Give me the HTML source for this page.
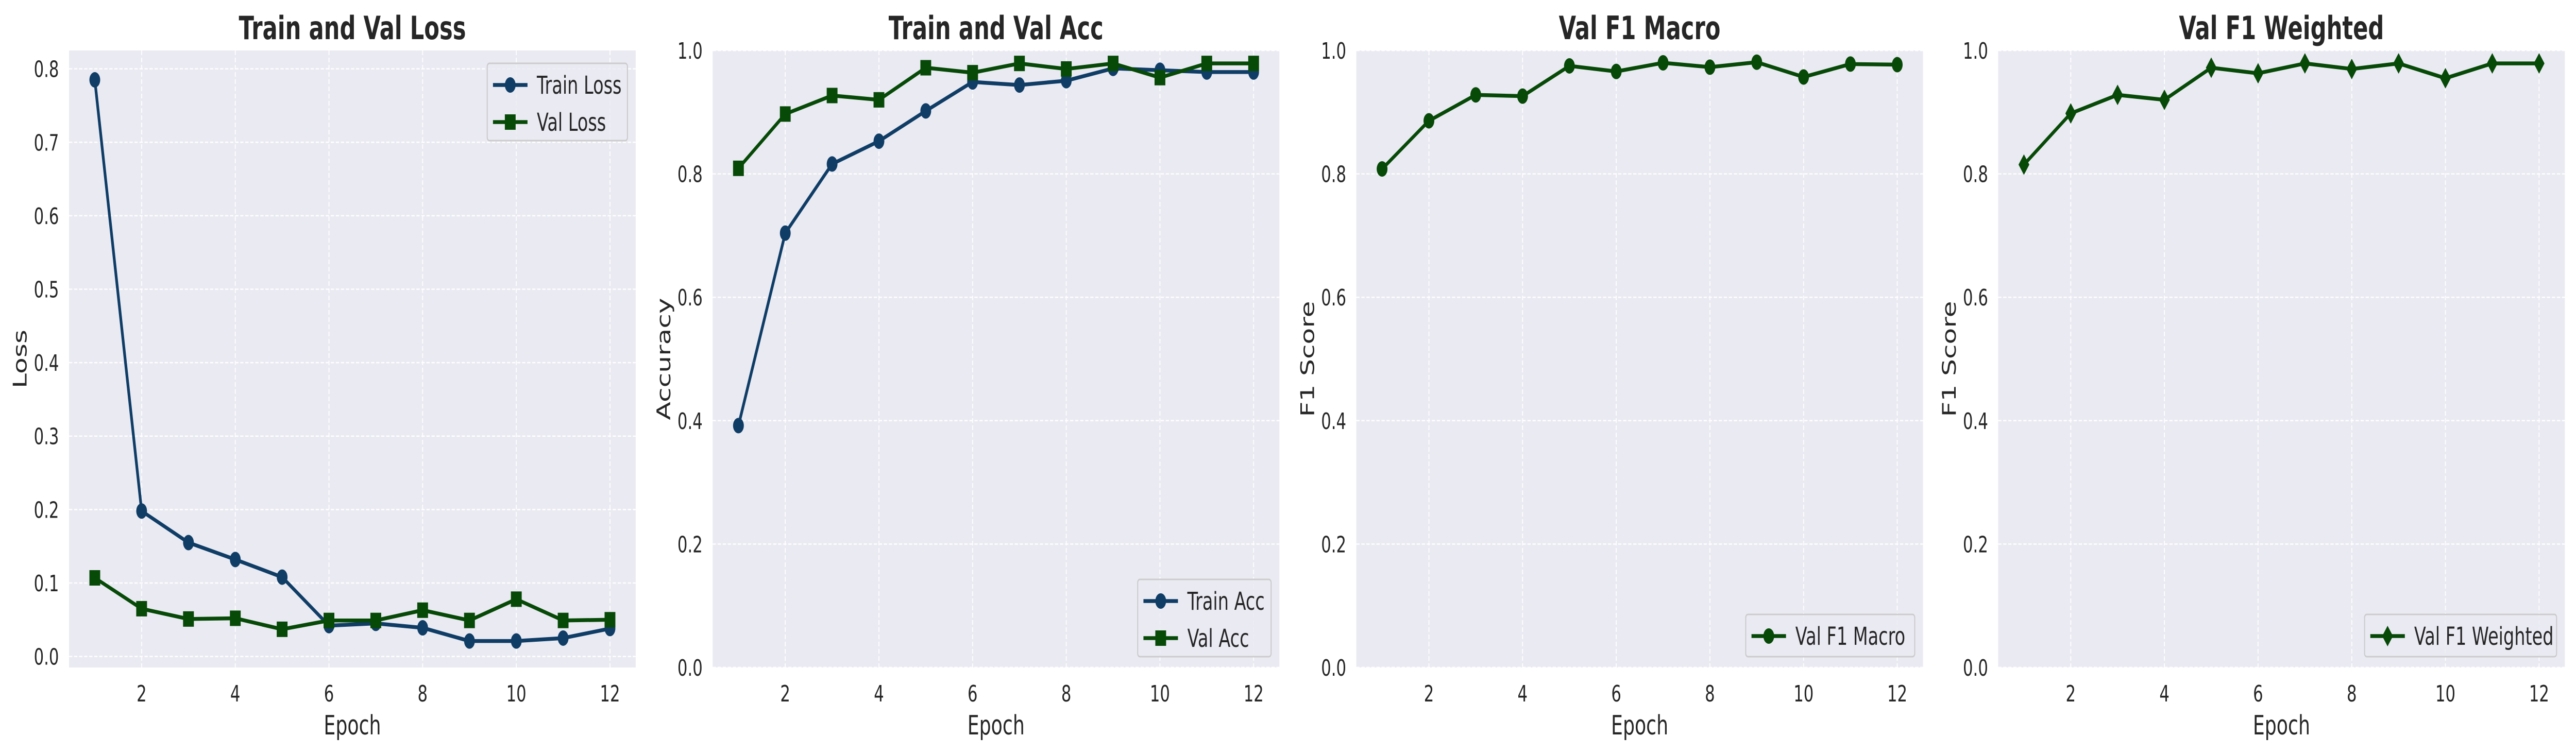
<!DOCTYPE html>
<html><head><meta charset="utf-8"><style>
html,body{margin:0;padding:0;background:#fff;width:100vw;height:100vh;overflow:hidden}
svg{display:block;width:100vw;height:100vh;font-family:"DejaVu Sans","Liberation Sans",sans-serif}
</style></head><body>
<svg id="chart" viewBox="0 0 7164 1464" preserveAspectRatio="none" xmlns="http://www.w3.org/2000/svg"></svg>
<script>
const epochs=[1,2,3,4,5,6,7,8,9,10,11,12];
const trainLoss=[0.785,0.198,0.155,0.132,0.108,0.042,0.045,0.039,0.021,0.021,0.025,0.038];
const valLoss=[0.107,0.065,0.051,0.052,0.037,0.049,0.049,0.063,0.049,0.078,0.049,0.050];
const trainAcc=[0.392,0.704,0.816,0.853,0.902,0.949,0.944,0.951,0.971,0.968,0.965,0.965];
const valAcc=[0.809,0.897,0.927,0.920,0.972,0.964,0.979,0.970,0.979,0.956,0.979,0.979];
const f1Macro=[0.808,0.886,0.928,0.926,0.975,0.966,0.980,0.973,0.981,0.957,0.978,0.977];
const f1Weighted=[0.815,0.898,0.928,0.920,0.972,0.963,0.979,0.970,0.979,0.955,0.979,0.979];
const xTicks=[2,4,6,8,10,12];
const lossTicks=[0,0.1,0.2,0.3,0.4,0.5,0.6,0.7,0.8];
const unitTicks=[0,0.2,0.4,0.6,0.8,1.0];

const NS="http://www.w3.org/2000/svg";
const svg=document.getElementById('chart');
const BLUE="#0f3d66", GREEN="#074a07";
function mk(tag,attrs,parent){const e=document.createElementNS(NS,tag);for(const k in attrs)e.setAttribute(k,attrs[k]);(parent||svg).appendChild(e);return e;}

function marker(g,type,x,y,color){
  let m;
  if(type==='circle') m=mk('circle',{cx:x,cy:y,r:15,fill:color},g);
  else if(type==='square') m=mk('rect',{x:x-15,y:y-15,width:30,height:30,fill:color},g);
  else m=mk('polygon',{points:`${x},${y-20} ${x+15},${y} ${x},${y+20} ${x-15},${y}`,fill:color},g);
  return m;
}

function panel(o){
  const L=o.left,T=98,W=1576,H=1198;
  const g=mk('g',{});
  
  
  const xs=v=>L+(v-0.45)/(12.55-0.45)*W;
  const ys=v=>T+H-(v-o.ymin)/(o.ymax-o.ymin)*H;
  const bg=mk('rect',{x:L,y:T,width:W,height:H,fill:"#eaeaf2"},g);
  
  
  o.yticks.forEach(t=>{
    const y=ys(t);
    const gl=mk('line',{x1:L,x2:L+W,y1:y,y2:y,stroke:"#fff","stroke-width":2.5,"stroke-dasharray":"9,5"},g);
    
    
    const tl=mk('text',{x:L-28,y:y+16,"text-anchor":"end","font-size":44,fill:"#262626"},g);
    tl.textContent=t.toFixed(1);
    
    
  });
  xTicks.forEach(t=>{
    const x=xs(t);
    const gl=mk('line',{x1:x,x2:x,y1:T,y2:T+H,stroke:"#fff","stroke-width":2.5,"stroke-dasharray":"9,5"},g);
    
    
    const tl=mk('text',{x:x,y:1362,"text-anchor":"middle","font-size":44,fill:"#262626"},g);
    tl.textContent=t;
    
    
  });
  const ti=mk('text',{x:L+W/2,y:76,"text-anchor":"middle","font-size":62,"font-weight":"bold",fill:"#262626"},g);
  ti.textContent=o.title;
  
  
  const xl=mk('text',{x:L+W/2,y:1426,"text-anchor":"middle","font-size":52,fill:"#262626"},g);
  xl.textContent="Epoch";
  
  
  const yl=mk('text',{x:0,y:0,"text-anchor":"middle","font-size":52,fill:"#262626",transform:`translate(${L-118},${T+H/2}) rotate(-90)`},g);
  yl.textContent=o.ylabel;
  
  
  o.series.forEach(s=>{
    const sg=mk('g',{},g);
    
    
    const pl=mk('polyline',{points:epochs.map((e,i)=>xs(e)+','+ys(s.data[i])).join(' '),fill:"none",stroke:s.color,"stroke-width":7.5,"stroke-linejoin":"round"},sg);
    
    
    epochs.forEach((e,i)=>{
      const m=marker(sg,s.marker,xs(e),ys(s.data[i]),s.color);
      
      
    });
  });
  const lw=o.legendW, lh=o.series.length===2?150:82;
  const lx=L+W-23-lw, ly=o.legendTop?T+25:T+H-21-lh;
  const lg=mk('g',{},g);
  
  
  mk('rect',{x:lx,y:ly,width:lw,height:lh,rx:6,fill:"#eaeaf2","fill-opacity":0.8,stroke:"#cccccc","stroke-width":3},lg);
  o.series.forEach((s,i)=>{
    const cy=ly+42+i*72;
    const eg=mk('g',{},lg);
    
    
    mk('line',{x1:lx+16,x2:lx+112,y1:cy,y2:cy,stroke:s.color,"stroke-width":7.5},eg);
    marker(eg,s.marker,lx+64,cy,s.color);
    const t=mk('text',{x:lx+138,y:cy+17,"font-size":48,fill:"#262626"},eg);
    t.textContent=s.label;
  });
}

panel({name:'loss-panel',left:192,title:'Train and Val Loss',ylabel:'Loss',ymin:-0.015,ymax:0.825,yticks:lossTicks,legendTop:true,legendW:390,
  series:[{key:'train-loss',label:'Train Loss',data:trainLoss,color:BLUE,marker:'circle'},{key:'val-loss',label:'Val Loss',data:valLoss,color:GREEN,marker:'square'}]});
panel({name:'accuracy-panel',left:1982,title:'Train and Val Acc',ylabel:'Accuracy',ymin:0,ymax:1,yticks:unitTicks,legendTop:false,legendW:371,
  series:[{key:'train-acc',label:'Train Acc',data:trainAcc,color:BLUE,marker:'circle'},{key:'val-acc',label:'Val Acc',data:valAcc,color:GREEN,marker:'square'}]});
panel({name:'f1-macro-panel',left:3772,title:'Val F1 Macro',ylabel:'F1 Score',ymin:0,ymax:1,yticks:unitTicks,legendTop:false,legendW:470,
  series:[{key:'val-f1-macro',label:'Val F1 Macro',data:f1Macro,color:GREEN,marker:'circle'}]});
panel({name:'f1-weighted-panel',left:5557,title:'Val F1 Weighted',ylabel:'F1 Score',ymin:0,ymax:1,yticks:unitTicks,legendTop:false,legendW:534,
  series:[{key:'val-f1-weighted',label:'Val F1 Weighted',data:f1Weighted,color:GREEN,marker:'diamond'}]});
</script>
</body></html>
